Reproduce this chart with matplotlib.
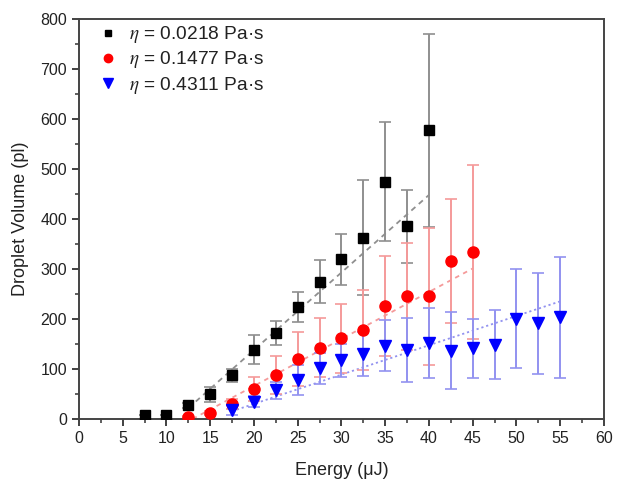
import numpy as np
import matplotlib
matplotlib.use("Agg")
import matplotlib.pyplot as plt
from matplotlib.ticker import MultipleLocator

plt.rcParams['font.family'] = ['Liberation Sans', 'DejaVu Sans']
plt.rcParams['mathtext.fontset'] = 'stix'

# eta = 0.0218 Pa.s
x_b = [7.5, 10, 12.5, 15, 17.5, 20, 22.5, 25, 27.5, 30, 32.5, 35, 37.5, 40]
y_b = [8, 8, 27, 49, 87, 138, 172, 223, 274, 319, 362, 474, 385, 577]
e_b = [0, 0, 5, 15, 13, 29, 24, 30, 43, 51, 115, 119, 73, 193]

# eta = 0.1477 Pa.s
x_r = [12.5, 15, 17.5, 20, 22.5, 25, 27.5, 30, 32.5, 35, 37.5, 40, 42.5, 45]
y_r = [4, 12, 30, 59, 87, 120, 142, 161, 178, 226, 245, 245, 315, 333]
e_r = [2, 4, 10, 24, 38, 54, 59, 69, 80, 100, 107, 137, 124, 174]

# eta = 0.4311 Pa.s
x_u = [17.5, 20, 22.5, 25, 27.5, 30, 32.5, 35, 37.5, 40, 42.5, 45, 47.5, 50, 52.5, 55]
y_u = [17, 34, 57, 77, 101, 117, 130, 146, 138, 151, 136, 141, 148, 200, 191, 203]
e_u = [10, 11, 17, 30, 31, 33, 44, 51, 64, 70, 77, 59, 69, 99, 101, 121]

# linear fits (slope, intercept, x start, x end)
fit_b = (15.5, -172, 12.5, 40)
fit_r = (9.4, -122, 13.0, 45)
fit_u = (5.86, -87, 17.5, 55)

labels = [r'$\eta$ = 0.0218 Pa·s', r'$\eta$ = 0.1477 Pa·s', r'$\eta$ = 0.4311 Pa·s']

fig = plt.figure(figsize=(6.19, 4.86), dpi=100)
ax = fig.add_axes([0.1276, 0.1379, 0.848, 0.823])

series = [
    (x_b, y_b, e_b, fit_b, 'black', '#8f8f8f', 's', 6.5, (0, (3, 2.5))),
    (x_r, y_r, e_r, fit_r, 'red', '#f59a9a', 'o', 8, (0, (2.5, 2.5))),
    (x_u, y_u, e_u, fit_u, 'blue', '#9292f0', 'v', 9, (0, (1.2, 1.6))),
]

for (x, y, e, fit, col, ecol, mk, ms, ls), lab in zip(series, labels):
    ax.errorbar(x, y, yerr=e, fmt='none', ecolor=ecol, elinewidth=1.4,
                capsize=4.5, capthick=1.2, zorder=2)
    xf = np.linspace(fit[2], fit[3], 50)
    ax.plot(xf, np.polyval(fit[:2], xf), color=ecol, lw=1.3, ls=ls, zorder=1)
    ax.plot(x, y, mk, color=col, ms=ms, mec=col, ls='none', label=lab, zorder=3)

ax.set_xlim(0, 60)
ax.set_ylim(0, 800)
ax.xaxis.set_major_locator(MultipleLocator(5))
ax.xaxis.set_minor_locator(MultipleLocator(2.5))
ax.yaxis.set_major_locator(MultipleLocator(100))
ax.yaxis.set_minor_locator(MultipleLocator(50))
ax.tick_params(which='major', direction='out', length=5, width=1.3,
               labelsize=11.5, colors='#333333', labelcolor='#222222')
ax.tick_params(which='minor', direction='out', length=3, width=1.1, colors='#333333')
for s in ax.spines.values():
    s.set_linewidth(1.4)
    s.set_color('#444444')

ax.set_xlabel('Energy (μJ)', fontsize=13, color='#222222', labelpad=12)
ax.set_ylabel('Droplet Volume (pl)', fontsize=13, color='#222222', labelpad=8)

leg = ax.legend(loc='upper left', frameon=False, fontsize=13.8, handletextpad=0.5,
                borderaxespad=0.5, labelspacing=0.22, handlelength=1.2,
                markerscale=0.75, bbox_to_anchor=(0.0, 1.03))
for t in leg.get_texts():
    t.set_color('#222222')

fig.savefig('out.png', dpi=100)
